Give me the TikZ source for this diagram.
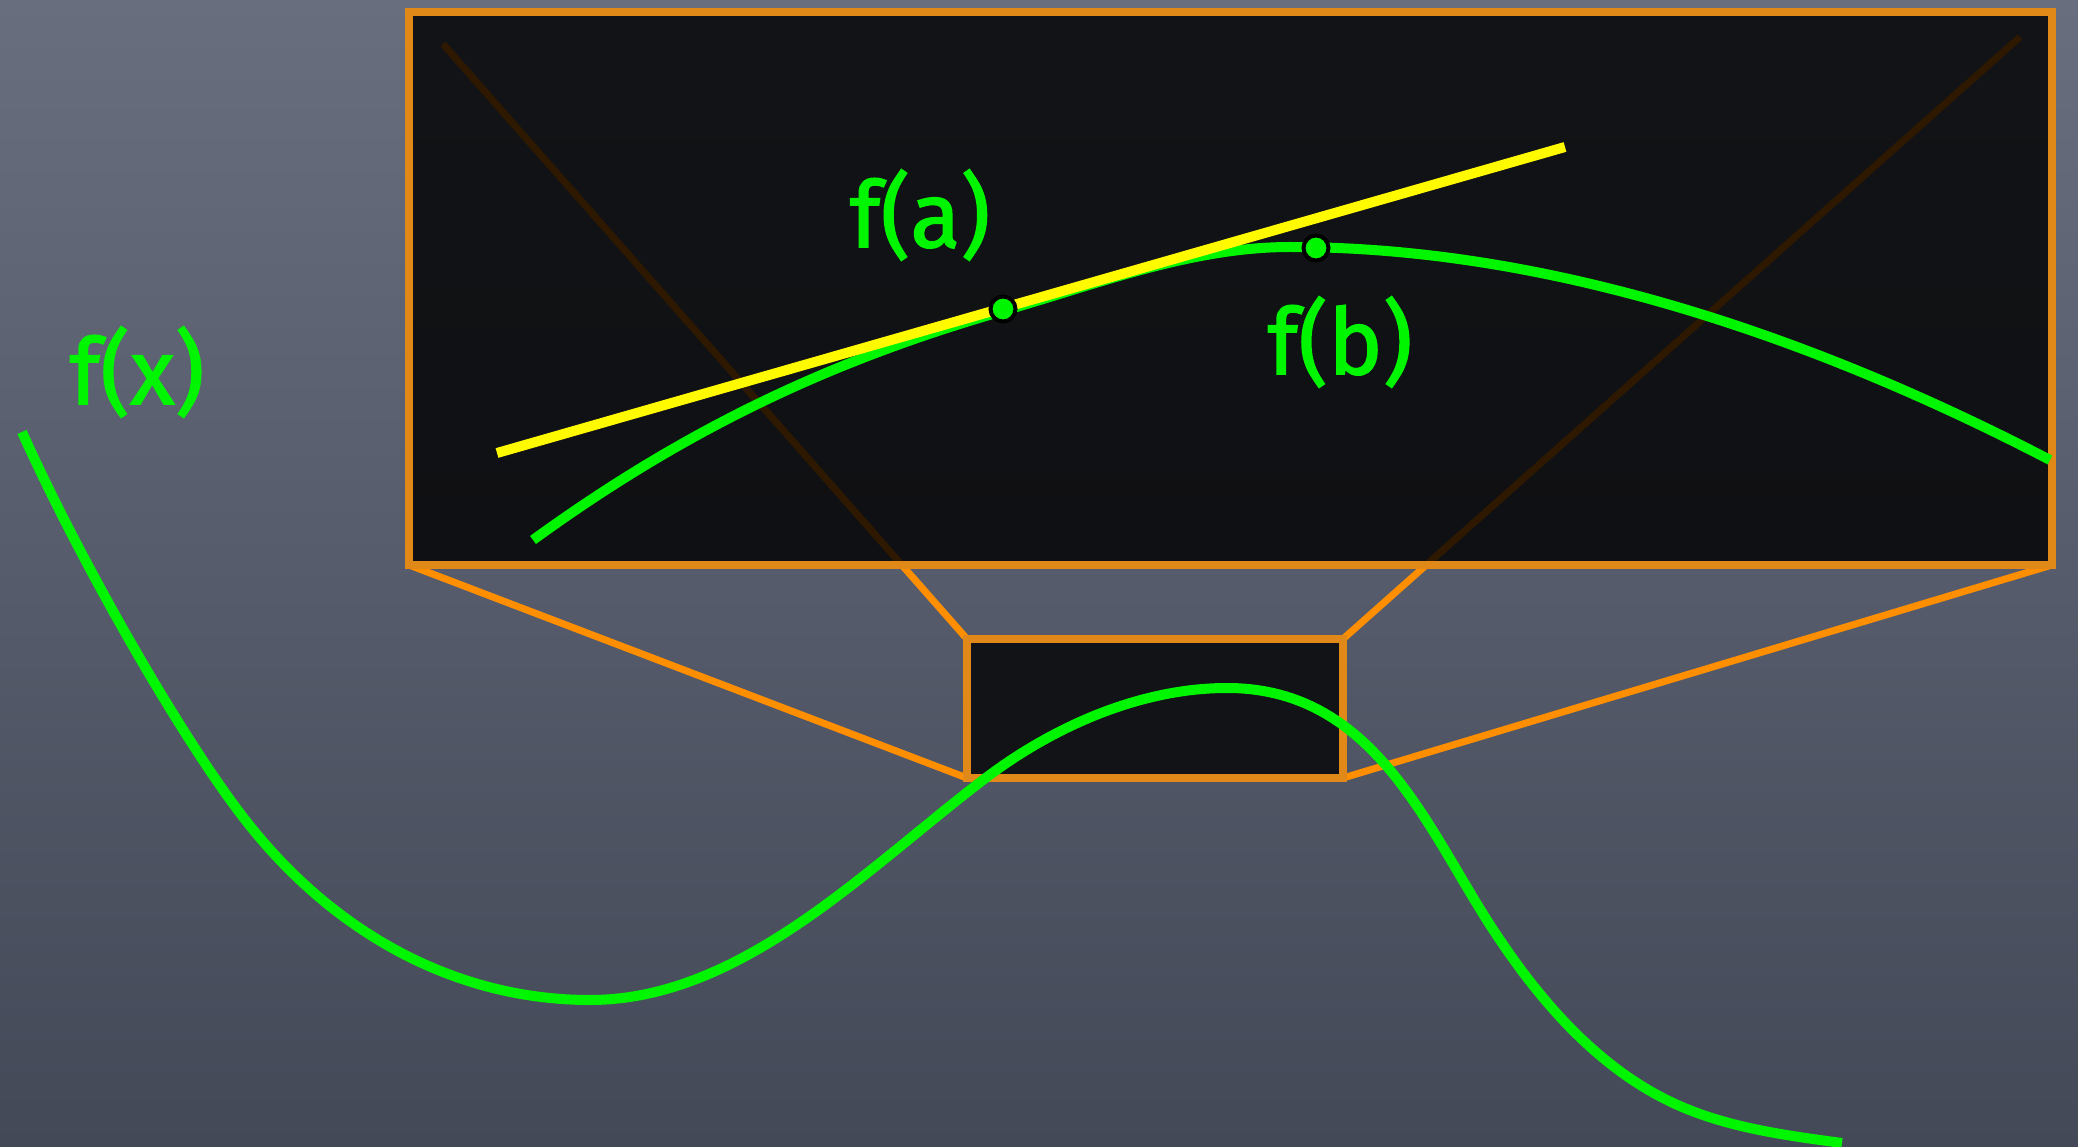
\documentclass[tikz,border=0pt]{standalone}
\usepackage{fontspec}
\setmainfont{Fira Sans}
\newfontfamily\labfont{Fira Sans}[FakeBold=1.6]
\definecolor{bgtop}{RGB}{104,110,126}
\definecolor{bgbot}{RGB}{68,73,88}
\definecolor{linkorange}{RGB}{255,143,0}
\definecolor{frameorange}{RGB}{224,136,24}
\definecolor{boardfill}{RGB}{0,0,0}
\definecolor{smallfill}{RGB}{18,19,22}
\definecolor{curvegreen}{RGB}{0,245,0}
\definecolor{tanyellow}{RGB}{255,250,0}
\begin{document}
\begin{tikzpicture}[x=1pt,y=-1pt,
  link/.style={draw=linkorange, line width=7pt},
  frame/.style={draw=frameorange, line width=8pt},
  curve/.style={draw=curvegreen, line width=10pt},
  tangent/.style={draw=tanyellow, line width=10pt},
  ptdot/.style={circle, fill=curvegreen, draw=black, line width=4pt, minimum size=25pt, inner sep=0pt},
  lab/.style={text=curvegreen, font=\labfont\fontsize{92}{100}\selectfont, inner sep=0pt}]
% background
\shade[top color=bgtop, bottom color=bgbot] (0,0) rectangle (2078,1147);
\useasboundingbox (0,0) rectangle (2078,1147);
% corners
\coordinate (bTL) at (409,12.5);
\coordinate (bBR) at (2052,565);
\coordinate (bBL) at (409,565);
\coordinate (sTL) at (967,639);
\coordinate (sBR) at (1343,778);
\coordinate (sTR) at (1343,639);
\coordinate (sBL) at (967,778);
\coordinate (eL) at (443,44);
\coordinate (eR) at (2020,37);
% zoom connectors
\draw[link] (sTL) -- (eL);
\draw[link] (sTR) -- (eR);
\draw[link] (bBL) -- (sBL);
\draw[link] (bBR) -- (sBR);
% magnified board
\fill[boardfill, fill opacity=0.82] (bTL) rectangle (bBR);
\draw[frame] (bTL) rectangle (bBR);
% small window
\filldraw[frame, fill=smallfill] (sTL) rectangle (sBR);
% main curve
\draw[curve] (22,432) .. controls (83,567) and (182,738) .. (243,817)
  .. controls (334.5,936) and (459,1000) .. (590,1000)
  .. controls (740,1000) and (864,871) .. (983,780)
  .. controls (1052,727) and (1140,688) .. (1227,688)
  .. controls (1380,688) and (1430,838) .. (1500,940)
  .. controls (1543,1004) and (1598,1066) .. (1667,1100)
  .. controls (1721,1127) and (1783,1135) .. (1842,1143);
% magnified curve
\draw[curve] (533,540) .. controls (690,426) and (836,359) .. (1003,311)
  .. controls (1097,284) and (1192,247) .. (1290,247)
  .. controls (1553,247) and (1817,339) .. (2050,460);
% tangent line
\coordinate (tA) at (497,453);
\coordinate (tB) at (1565,147);
\draw[tangent] (tA) -- (tB);
% points
\node[ptdot] (pa) at (1003,309) {};
\node[ptdot] (pb) at (1316,248) {};
% labels
\node[lab] (la) at (920,215) {f(a)};
\node[lab] (lb) at (1340,342) {f(b)};
\node[lab] (lx) at (137,372) {f(x)};
\end{tikzpicture}
\end{document}
